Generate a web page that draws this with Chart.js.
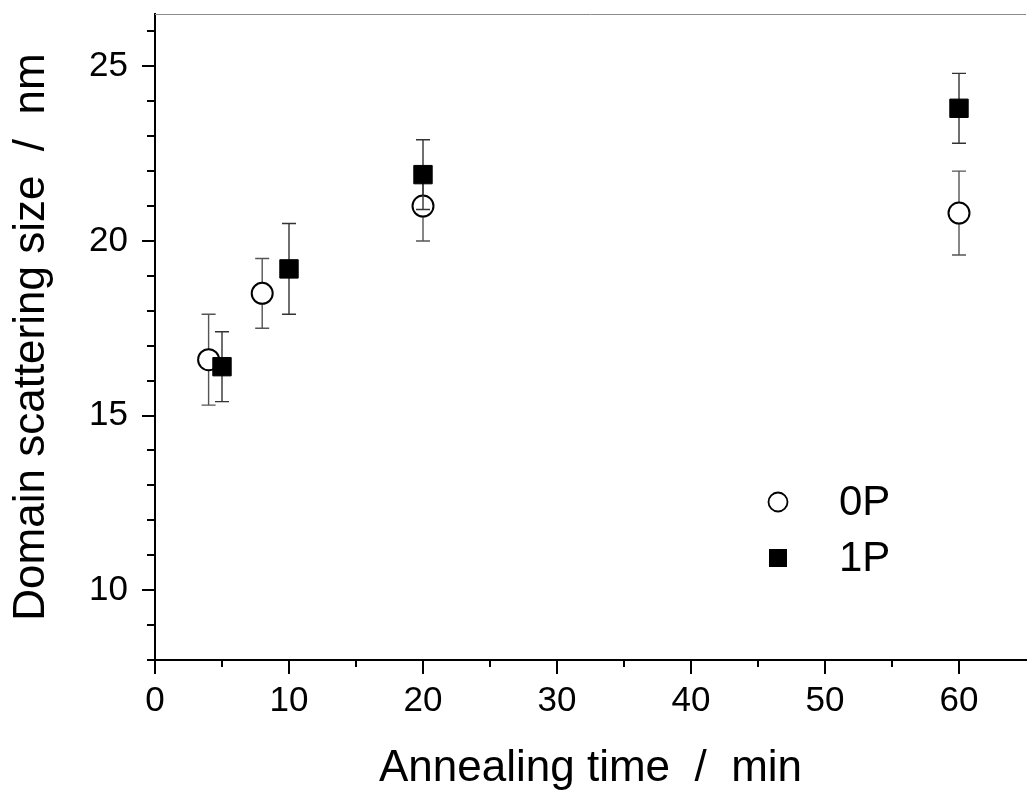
<!DOCTYPE html>
<html>
<head>
<meta charset="utf-8">
<script src="https://cdn.jsdelivr.net/npm/chart.js@4.4.1/dist/chart.umd.min.js"></script>
<style>
  html, body { margin: 0; padding: 0; background: #fff; overflow: hidden; }
  #wrap { width: 1040px; height: 796px; }
</style>
</head>
<body>
<div id="wrap"><canvas id="c" width="1040" height="796"></canvas></div>
<script>
// ---- data ----
const seriesNames = ['0P', '1P'];
const time0P = [4, 8, 20, 60];
const size0P = [16.6, 18.5, 21.0, 20.8];
const err0P  = [1.3, 1.0, 1.0, 1.2];
const time1P = [5, 10, 20, 60];
const size1P = [16.4, 19.2, 21.9, 23.8];
const err1P  = [1.0, 1.3, 1.0, 1.0];
const xTicks = [0, 5, 10, 15, 20, 25, 30, 35, 40, 45, 50, 55, 60];
const xMajor = [0, 10, 20, 30, 40, 50, 60];
const yTicks = [8, 9, 10, 11, 12, 13, 14, 15, 16, 17, 18, 19, 20, 21, 22, 23, 24, 25, 26];
const yMajor = [10, 15, 20, 25];
const xTitle = 'Annealing time  /  min';
const yTitle = 'Domain scattering size  /  nm';

const FONT = '"Liberation Sans", Arial, sans-serif';
const errors = [err0P, err1P];

const errorBarPlugin = {
  id: 'errorBars',
  beforeDatasetDraw(chart, args) {
    const ctx = chart.ctx;
    const meta = args.meta;
    const ds = chart.data.datasets[args.index];
    const errs = errors[args.index];
    const ys = chart.scales.y;
    ctx.save();
    ctx.strokeStyle = ds.errColor;
    ctx.lineWidth = 1.4;
    meta.data.forEach((pt, i) => {
      const v = ds.data[i].y;
      const yTop = ys.getPixelForValue(v + errs[i]);
      const yBot = ys.getPixelForValue(v - errs[i]);
      const x = pt.x;
      ctx.beginPath();
      ctx.moveTo(x, yTop); ctx.lineTo(x, yBot);
      ctx.moveTo(x - 7, yTop); ctx.lineTo(x + 7, yTop);
      ctx.moveTo(x - 7, yBot); ctx.lineTo(x + 7, yBot);
      ctx.stroke();
    });
    ctx.restore();
  }
};

const frameTicksPlugin = {
  id: 'frameTicks',
  afterDraw(chart) {
    const ctx = chart.ctx;
    const a = chart.chartArea;
    const xs = chart.scales.x, ys = chart.scales.y;
    ctx.save();
    ctx.strokeStyle = '#8a8a8a';
    ctx.lineWidth = 1;
    ctx.beginPath();
    ctx.moveTo(a.left, a.top + 0.5); ctx.lineTo(a.right, a.top + 0.5);
    ctx.stroke();
    ctx.strokeStyle = '#000';
    ctx.lineWidth = 2;
    ctx.beginPath();
    xTicks.forEach(v => {
      const px = Math.round(xs.getPixelForValue(v));
      const len = xMajor.includes(v) ? 14 : 7;
      ctx.moveTo(px, a.bottom); ctx.lineTo(px, a.bottom + len);
    });
    yTicks.forEach(v => {
      const py = Math.round(ys.getPixelForValue(v));
      const len = yMajor.includes(v) ? 13 : 8;
      ctx.moveTo(a.left, py); ctx.lineTo(a.left - len, py);
    });
    ctx.stroke();
    ctx.restore();
  }
};

const legendPlugin = {
  id: 'insideLegend',
  afterDraw(chart) {
    const ctx = chart.ctx;
    const a = chart.chartArea;
    const x0 = a.left + 623, y0 = a.top + 488, gap = 56;
    ctx.save();
    ctx.beginPath();
    ctx.arc(x0, y0, 9.5, 0, Math.PI * 2);
    ctx.fillStyle = '#fff'; ctx.fill();
    ctx.lineWidth = 1.8; ctx.strokeStyle = '#000'; ctx.stroke();
    ctx.fillStyle = '#000';
    ctx.fillRect(x0 - 9, y0 + gap - 9, 18, 18);
    ctx.font = '42px ' + FONT;
    ctx.textBaseline = 'middle';
    ctx.textAlign = 'left';
    ctx.fillText(seriesNames[0], x0 + 61, y0 + 1);
    ctx.fillText(seriesNames[1], x0 + 61, y0 + gap + 1);
    ctx.restore();
  }
};

new Chart(document.getElementById('c'), {
  type: 'scatter',
  data: {
    datasets: [
      {
        label: seriesNames[0],
        data: time0P.map((t, i) => ({ x: t, y: size0P[i] })),
        pointStyle: 'circle',
        pointRadius: 10.5,
        pointHoverRadius: 10.5,
        backgroundColor: '#fff',
        borderColor: '#000',
        pointBorderWidth: 2,
        errColor: '#555',
        order: 2
      },
      {
        label: seriesNames[1],
        data: time1P.map((t, i) => ({ x: t, y: size1P[i] })),
        pointStyle: 'rect',
        pointRadius: 13,
        pointHoverRadius: 13,
        backgroundColor: '#000',
        borderColor: '#000',
        pointBorderWidth: 1,
        errColor: '#333',
        order: 1
      }
    ]
  },
  options: {
    responsive: false,
    animation: false,
    events: [],
    layout: { padding: { left: 0, top: 11, right: 8, bottom: 0 } },
    plugins: { legend: { display: false }, tooltip: { enabled: false } },
    scales: {
      x: {
        type: 'linear',
        min: 0, max: 65,
        afterBuildTicks: s => { s.ticks = xTicks.map(v => ({ value: v })); },
        afterFit: s => { s.height = 136; s.paddingLeft = 0; s.paddingRight = 0; },
        grid: { display: false, drawTicks: false },
        border: { display: true, color: '#000', width: 2 },
        ticks: {
          padding: 20,
          color: '#000',
          font: { family: FONT, size: 35 },
          maxRotation: 0,
          autoSkip: false,
          callback: v => xMajor.includes(v) ? String(v) : ''
        },
        title: {
          display: true, text: xTitle, color: '#000',
          font: { family: FONT, size: 44, lineHeight: 1.2 },
          padding: { top: 0, bottom: 1 }
        }
      },
      y: {
        type: 'linear',
        min: 8, max: 26.5,
        afterBuildTicks: s => { s.ticks = yTicks.map(v => ({ value: v })); },
        afterFit: s => { s.width = 155; s.paddingTop = 0; s.paddingBottom = 0; },
        grid: { display: false, drawTicks: false },
        border: { display: true, color: '#000', width: 2 },
        ticks: {
          padding: 27,
          color: '#000',
          font: { family: FONT, size: 35 },
          autoSkip: false,
          callback: v => yMajor.includes(v) ? String(v) : ''
        },
        title: {
          display: true, text: yTitle, color: '#000',
          font: { family: FONT, size: 44, lineHeight: 1.2 },
          padding: { top: 5, bottom: 0 }
        }
      }
    }
  },
  plugins: [errorBarPlugin, frameTicksPlugin, legendPlugin]
});
</script>
</body>
</html>
